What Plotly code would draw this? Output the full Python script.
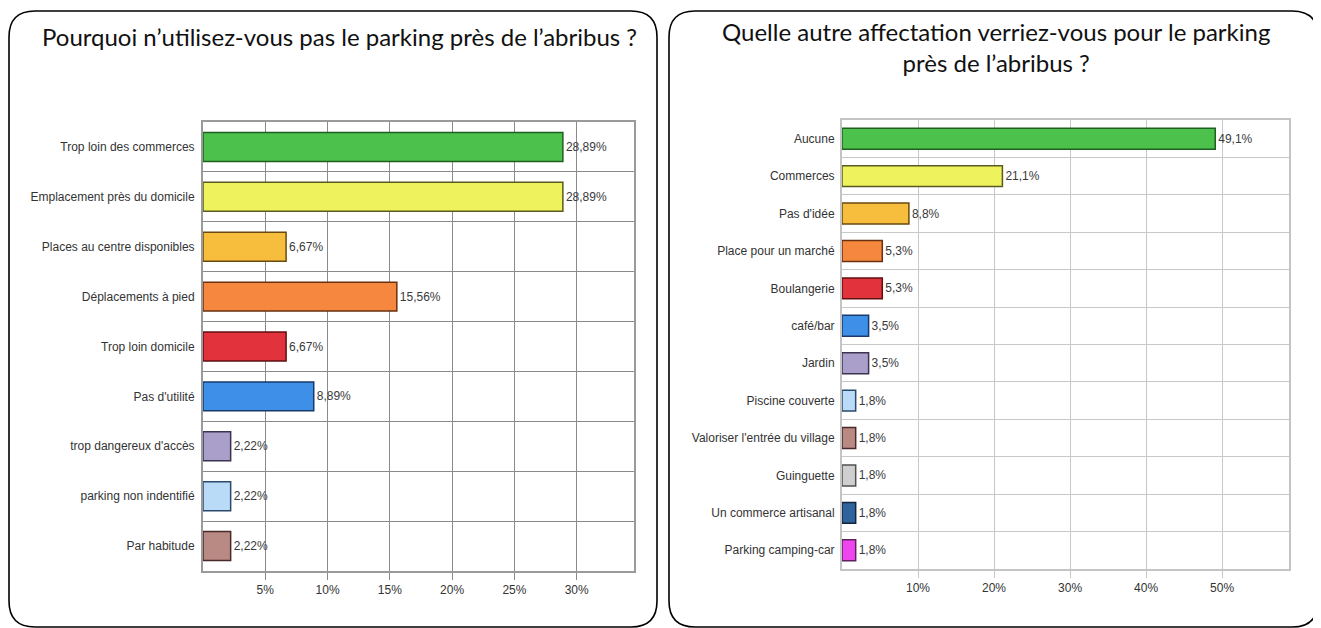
import plotly.graph_objects as go

# page body has an 8px margin: figure is sized to fit the window
OFF = 8
W, H = 1321 - OFF, 628 - OFF

# ---------------- data ----------------
left_title = "Pourquoi n’utilisez-vous pas le parking près de l’abribus ?"
left_categories = [
    "Trop loin des commerces",
    "Emplacement près du domicile",
    "Places au centre disponibles",
    "Déplacements à pied",
    "Trop loin domicile",
    "Pas d'utilité",
    "trop dangereux d'accès",
    "parking non indentifié",
    "Par habitude",
]
left_values = [28.89, 28.89, 6.67, 15.56, 6.67, 8.89, 2.22, 2.22, 2.22]
left_ticks = [5, 10, 15, 20, 25, 30]

right_title = "Quelle autre affectation verriez-vous pour le parking<br>près de l’abribus ?"
right_categories = [
    "Aucune",
    "Commerces",
    "Pas d'idée",
    "Place pour un marché",
    "Boulangerie",
    "café/bar",
    "Jardin",
    "Piscine couverte",
    "Valoriser l'entrée du village",
    "Guinguette",
    "Un commerce artisanal",
    "Parking camping-car",
]
right_values = [49.1, 21.1, 8.8, 5.3, 5.3, 3.5, 3.5, 1.8, 1.8, 1.8, 1.8, 1.8]
right_ticks = [10, 20, 30, 40, 50]

# ---------------- styles ----------------
left_colors = ["#4cc24c", "#eef25c", "#f7bd3c", "#f5883e", "#e2323c",
               "#3d8fe8", "#aa9fca", "#badbf8", "#b98a84"]
left_lines = ["#1f5f1f", "#5a5a20", "#6a4a10", "#6a3010", "#601010",
              "#1a3a6a", "#3a3450", "#2a4a6a", "#4a2a28"]
right_colors = ["#4cc24c", "#eef25c", "#f7bd3c", "#f5883e", "#e2323c",
                "#3d8fe8", "#aa9fca", "#badbf8", "#b98a84", "#cfcfcf",
                "#2e639c", "#ee46ee"]
right_lines = ["#1f5f1f", "#5a5a20", "#6a4a10", "#6a3010", "#601010",
               "#1a3a6a", "#3a3450", "#2a4a6a", "#4a2a28", "#505050",
               "#12243c", "#602060"]


def fmt(v, nd):
    return (f"{v:.{nd}f}").replace(".", ",") + "%"


def px_x(x):
    return (x - OFF) / W


def px_y(y):
    return 1 - (y - OFF) / H


fig = go.Figure()

val_font = dict(family="Liberation Sans, Arial", size=12, color="#3a3a3a")

fig.add_trace(go.Bar(
    x=left_values, y=left_categories, orientation="h",
    marker=dict(color=left_colors, line=dict(color=left_lines, width=1.5)),
    width=0.58,
    text=[fmt(v, 2) for v in left_values], textposition="outside",
    textfont=val_font,
    cliponaxis=False, xaxis="x", yaxis="y", showlegend=False,
))

fig.add_trace(go.Bar(
    x=right_values, y=right_categories, orientation="h",
    marker=dict(color=right_colors, line=dict(color=right_lines, width=1.5)),
    width=0.56,
    text=[fmt(v, 1) for v in right_values], textposition="outside",
    textfont=val_font,
    cliponaxis=False, xaxis="x2", yaxis="y2", showlegend=False,
))

axis_font = dict(family="Liberation Sans, Arial", size=12, color="#333333")

fig.update_layout(
    width=W, height=H,
    margin=dict(l=0, r=0, t=0, b=0),
    paper_bgcolor="white", plot_bgcolor="white",
    xaxis=dict(
        domain=[px_x(203), px_x(634)], range=[0, 34.6],
        tickvals=left_ticks, ticktext=[f"{t}%" for t in left_ticks],
        showgrid=True, gridcolor="#8a8a8a", gridwidth=1,
        ticks="outside", ticklen=7, tickcolor="#8a8a8a",
        showline=True, linecolor="#9a9a9a", linewidth=2, mirror=True,
        tickfont=axis_font, zeroline=False, anchor="y",
    ),
    yaxis=dict(
        domain=[px_y(571), px_y(122)], autorange="reversed",
        type="category", tickson="boundaries", ticks="",
        showgrid=True, gridcolor="#8a8a8a", gridwidth=1,
        showline=True, linecolor="#9a9a9a", linewidth=2, mirror=True,
        tickfont=axis_font, ticklabelstandoff=4, anchor="x",
    ),
    xaxis2=dict(
        domain=[px_x(842), px_x(1289)], range=[0, 58.8],
        tickvals=right_ticks, ticktext=[f"{t}%" for t in right_ticks],
        showgrid=True, gridcolor="#c8c8c8", gridwidth=1,
        ticks="outside", ticklen=7, tickcolor="#c8c8c8",
        showline=True, linecolor="#c4c4c4", linewidth=2, mirror=True,
        tickfont=axis_font, zeroline=False, anchor="y2",
    ),
    yaxis2=dict(
        domain=[px_y(569), px_y(120)], autorange="reversed",
        type="category", tickson="boundaries", ticks="",
        showgrid=True, gridcolor="#c8c8c8", gridwidth=1,
        showline=True, linecolor="#c4c4c4", linewidth=2, mirror=True,
        tickfont=axis_font, ticklabelstandoff=3, anchor="x2",
    ),
)


def rounded_box(x0, y0, x1, y1, r):
    X0, X1 = px_x(x0), px_x(x1)
    Y0, Y1 = px_y(y0), px_y(y1)
    rx, ry = r / W, r / H
    return (f"M {X0+rx},{Y0} L {X1-rx},{Y0} Q {X1},{Y0} {X1},{Y0-ry} "
            f"L {X1},{Y1+ry} Q {X1},{Y1} {X1-rx},{Y1} "
            f"L {X0+rx},{Y1} Q {X0},{Y1} {X0},{Y1+ry} "
            f"L {X0},{Y0-ry} Q {X0},{Y0} {X0+rx},{Y0} Z")


for (a, b) in [(8, 657), (668, 1318)]:
    fig.add_shape(type="path", xref="paper", yref="paper",
                  path=rounded_box(a + 1, 11, b, 627, 26),
                  line=dict(color="black", width=1.6), layer="below")

title_font = dict(family="Lato, Open Sans, sans-serif", size=24, color="#111111")
fig.add_annotation(text=left_title, xref="paper", yref="paper",
                   x=px_x(339), y=px_y(36), showarrow=False,
                   xanchor="center", yanchor="middle", font=title_font)
fig.add_annotation(text=right_title, xref="paper", yref="paper",
                   x=px_x(996), y=px_y(47), showarrow=False,
                   xanchor="center", yanchor="middle", font=title_font)

fig.write_html("out.html")
